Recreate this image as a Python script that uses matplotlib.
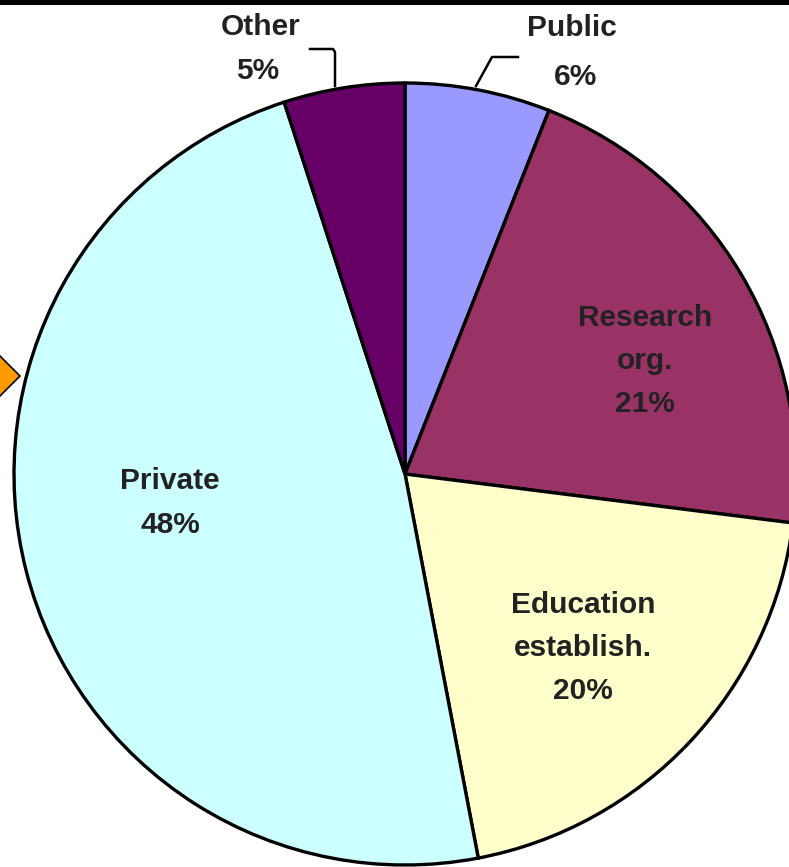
import matplotlib.pyplot as plt
from matplotlib.patches import Polygon

# slice data, clockwise from 12 o'clock
names = ['Public', 'Research\norg.', 'Education\nestablish.', 'Private', 'Other']
shares = [6, 21, 20, 48, 5]
colors = ['#9999ff', '#993366', '#ffffcc', '#ccffff', '#660066']

W, H = 789, 867


def up(y):
  # image rows (top down) -> axis y (bottom up)
  return H - y


def main():
  fig = plt.figure(figsize=(W / 100, H / 100), dpi=100)
  ax = fig.add_axes([0, 0, 1, 1])

  ax.pie(shares, colors=colors, startangle=90, counterclock=False,
         center=(405, up(474)), radius=391, frame=True,
         wedgeprops=dict(edgecolor='black', linewidth=2.4))
  ax.set_xlim(0, W)
  ax.set_ylim(0, H)
  ax.set_aspect('equal')
  ax.axis('off')

  font = dict(family='Liberation Sans', fontsize=21.5, fontweight='bold',
              color='#222222', ha='center', va='center', linespacing=1.7)

  labels = [f"{n}\n{s}%" for n, s in zip(names, shares)]
  # inside labels
  ax.text(645, up(361), labels[1], **font)
  ax.text(583, up(648), labels[2], **font)
  ax.text(170, up(503), labels[3], **font)
  # outside labels with leader lines
  ax.text(261, up(27), names[4], **font)
  ax.text(258, up(71), f"{shares[4]}%", **font)
  ax.text(572, up(28), names[0], **font)
  ax.text(576, up(77), f"{shares[0]}%", **font)
  ax.plot([310, 333, 335, 335], [up(49), up(49), up(52), up(86)], color='black', lw=1.8)
  ax.plot([518, 492, 476], [up(57), up(57), up(86)], color='black', lw=1.8)

  # orange diamond on the left edge
  ax.add_patch(Polygon([(-20, up(376)), (0, up(356)), (20, up(376)), (0, up(396))],
                       closed=True, facecolor='#ff9900', edgecolor='black', lw=1.2))
  # black strip along the top
  ax.axhspan(up(5), H, color='black', lw=0)

  fig.savefig('out.png', dpi=100)


if __name__ == '__main__':
  main()
